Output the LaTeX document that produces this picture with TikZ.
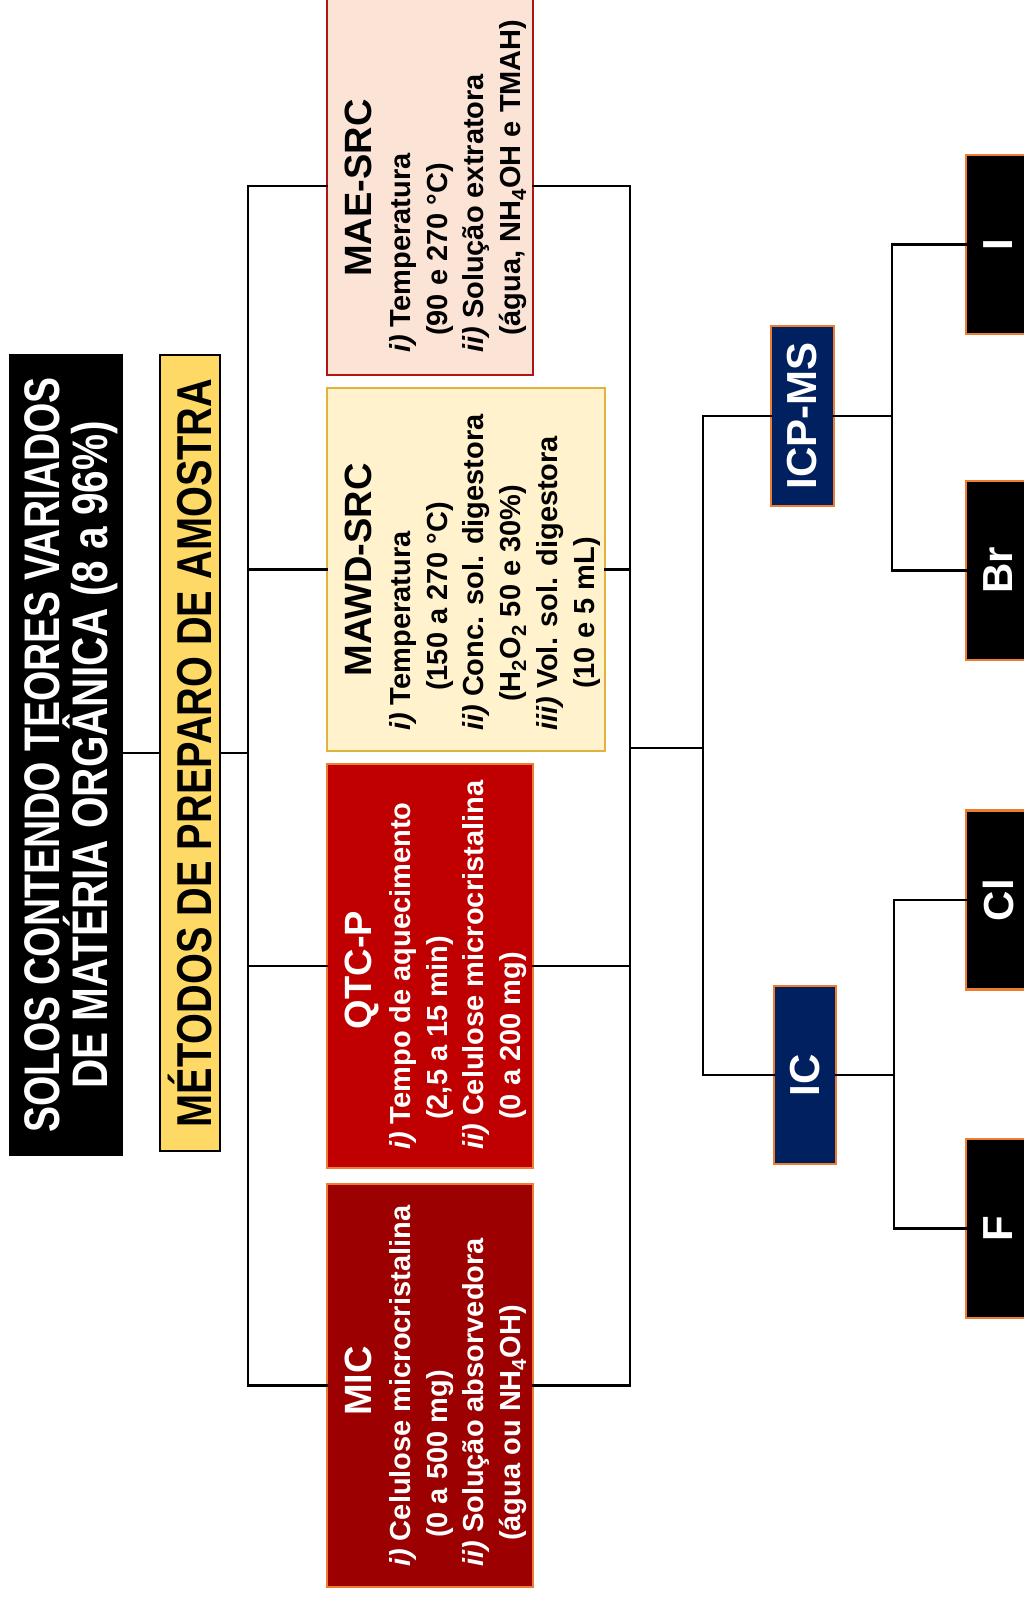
\documentclass[tikz,border=0pt]{standalone}
\usepackage{fontspec}
\setmainfont{Liberation Sans}
\newfontfamily\narrowfont[FakeStretch=0.78]{Liberation Sans}
\newfontfamily\narrowfontB[FakeStretch=0.81]{Liberation Sans}
\definecolor{goldfill}{HTML}{FFD966}
\definecolor{maefill}{HTML}{FBE3D6}
\definecolor{maeline}{HTML}{B01515}
\definecolor{mawdfill}{HTML}{FFF2CC}
\definecolor{mawdline}{HTML}{E0B43C}
\definecolor{qtcfill}{HTML}{C00000}
\definecolor{micfill}{HTML}{9C0000}
\definecolor{orangeline}{HTML}{ED7D31}
\definecolor{navyfill}{HTML}{002060}
\newcommand\bodyfont{\fontsize{29}{36.7}\selectfont\bfseries}
\newcommand\headfont{\fontsize{38}{44}\selectfont\bfseries}
\newcommand\tagfont{\fontsize{42}{48}\selectfont\bfseries}
\begin{document}
\begin{tikzpicture}[x=1pt,y=-1pt,
  box/.style={draw, line width=2.5pt, rotate=90, inner sep=0pt, outer sep=0pt},
  wire/.style={line width=2.6pt, line cap=rect},
  head/.style={rotate=90, anchor=base, inner sep=0pt, font=\headfont},
  body/.style={rotate=90, anchor=base west, inner sep=0pt, font=\bodyfont},
  tag/.style={box, fill=black, draw=orangeline, text=white, font=\tagfont, minimum height=64pt, minimum width=179pt},
  tech/.style={box, fill=navyfill, draw=orangeline, text=white, font=\tagfont}]
\useasboundingbox (0,0) rectangle (1024,1597);
\clip (0,0) rectangle (1024,1597);
\fill[white] (0,0) rectangle (1024,1597);

% title and methods
\node[box, fill=black, draw=black, minimum width=800pt, minimum height=112pt] (title) at (66,755) {};
\node[rotate=90, text=white, align=center, inner sep=0pt,
  font=\narrowfont\fontsize{50}{48}\selectfont\bfseries] (titleT) at (71,755)
  {SOLOS CONTENDO TEORES VARIADOS\\{\narrowfontB\bfseries DE MATÉRIA ORGÂNICA (8 a 96\%)}};
\node[box, fill=goldfill, draw=black, line width=2pt, minimum width=796pt, minimum height=60pt,
  font=\narrowfontB\fontsize{49}{50}\selectfont\bfseries] (met) at (190,753)
  {MÉTODOS DE PREPARO DE AMOSTRA};

% method boxes
\node[box, fill=maefill, draw=maeline, minimum width=378pt, minimum height=206pt] (mae) at (430,186) {};
\node[box, fill=mawdfill, draw=mawdline, minimum width=363pt, minimum height=278pt] (mawd) at (466,569.5) {};
\node[box, fill=qtcfill, draw=orangeline, minimum width=404pt, minimum height=206pt] (qtc) at (430,966) {};
\node[box, fill=micfill, draw=orangeline, minimum width=403pt, minimum height=206pt] (mic) at (430,1385.5) {};

\node[head] (maeH) at (371,188) {MAE-SRC};
\node[body] (maeT) at (410.5,353) {\begin{tabular}[t]{@{}l@{}}
  \textit{i)} Temperatura\\
  \hspace*{17pt}(90 e 270 °C)\\
  \textit{ii)} Solução extratora\\
  \hspace*{17pt}(água, NH\textsubscript{4}OH e TMAH)\end{tabular}};

\node[head] (mawdH) at (371,570) {MAWD-SRC};
\node[body] (mawdT) at (410.5,731) {\begin{tabular}[t]{@{}l@{}}
  \textit{i)} Temperatura\\
  \hspace*{40pt}(150 a 270 °C)\\
  \textit{ii)} Conc. sol. digestora\\
  \hspace*{29pt}(H\textsubscript{2}O\textsubscript{2} 50 e 30\%)\\
  \textit{iii)} Vol. sol. digestora\\
  \hspace*{42pt}(10 e 5 mL)\end{tabular}};

\node[head, text=white] (qtcH) at (371,970) {QTC-P};
\node[body, text=white] (qtcT) at (410.5,1150) {\begin{tabular}[t]{@{}l@{}}
  \textit{i)} Tempo de aquecimento\\
  \hspace*{30pt}(2,5 a 15 min)\\
  \textit{ii)} Celulose microcristalina\\
  \hspace*{30pt}(0 a 200 mg)\end{tabular}};

\node[head, text=white] (micH) at (371,1381) {MIC};
\node[body, text=white] (micT) at (410.5,1567) {\begin{tabular}[t]{@{}l@{}}
  \textit{i)} Celulose microcristalina\\
  \hspace*{29pt}(0 a 500 mg)\\
  \textit{ii)} Solução absorvedora\\
  \hspace*{26pt}(água ou NH\textsubscript{4}OH)\end{tabular}};

% techniques
\node[tech, minimum width=180pt, minimum height=63pt] (icp) at (802.5,416) {ICP-MS};
\node[tech, minimum width=178pt, minimum height=62pt] (ic) at (805,1075) {IC};

% elements
\node[tag] (elI) at (998,244.5) {I};
\node[tag] (elBr) at (998,570.5) {Br};
\node[tag] (elCl) at (998,900) {Cl};
\node[tag] (elF) at (998,1228.5) {F};

% spine coordinates
\coordinate (sL) at (248,0);
\coordinate (sR) at (630,0);
\coordinate (sA) at (703,748);
\coordinate (sB) at (892,0);
\coordinate (sC) at (894,0);

% connectors
\draw[wire] (met.north) -- (met.north -| title.south);
\draw[wire] (met.south) -- (met.south -| sL);
\draw[wire] (mae.north) -- (mae.north -| sL) -- (mic.north -| sL) -- (mic.north);
\draw[wire] (mawd.north) -- (mawd.north -| sL);
\draw[wire] (qtc.north) -- (qtc.north -| sL);

\draw[wire] (mae.south) -- (mae.south -| sR) -- (mic.south -| sR) -- (mic.south);
\draw[wire] (mawd.south) -- (mawd.south -| sR);
\draw[wire] (qtc.south) -- (qtc.south -| sR);
\draw[wire] (sA -| sR) -- (sA);
\draw[wire] (icp.north) -- (icp.north -| sA) -- (ic.north -| sA) -- (ic.north);

\draw[wire] (elI.north) -- (elI.north -| sB) -- (elBr.north -| sB) -- (elBr.north);
\draw[wire] (icp.south) -- (icp.south -| sB);
\draw[wire] (elCl.north) -- (elCl.north -| sC) -- (elF.north -| sC) -- (elF.north);
\draw[wire] (ic.south) -- (ic.south -| sC);
\end{tikzpicture}
\end{document}
